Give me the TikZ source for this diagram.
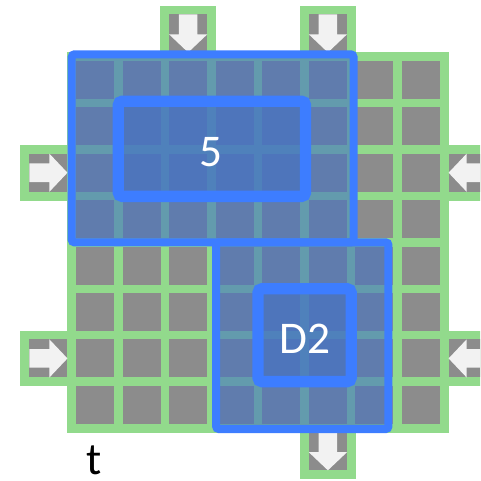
\documentclass[tikz,border=0pt]{standalone}
\usepackage{fontspec}
\setmainfont{Carlito}
\definecolor{padgreen}{RGB}{146,218,140}
\definecolor{cellgray}{RGB}{140,140,140}
\definecolor{arrowwhite}{RGB}{242,242,242}
\definecolor{edgeblue}{RGB}{61,125,255}
\definecolor{fillblue}{RGB}{68,114,196}

\begin{document}
\begin{tikzpicture}[x=34.93pt, y=-34.82pt,
  cell/.style={fill=cellgray, minimum size=28.5pt, inner sep=0pt},
  pad/.style={fill=padgreen},
  outerbox/.style={draw=edgeblue, line width=6pt, fill=fillblue, fill opacity=0.6, rounded corners=2pt},
  innerbox/.style={draw=edgeblue, line width=8.5pt, fill=fillblue, fill opacity=0.62, rounded corners=3pt},
  boxlabel/.style={text=white, inner sep=0pt, font=\fontsize{34}{40}\selectfont},
  inarrow/.pic={\fill[arrowwhite] (-0.2,-0.41) -- (0.2,-0.41) -- (0.2,0.02) -- (0.41,0.02) -- (0,0.41) -- (-0.41,0.02) -- (-0.2,0.02) -- cycle;}]

\clip (-1.04,-0.72) rectangle (9.27,9.64);

% green pad under the grid, plus the tabs on its sides
\fill[pad] (0.4,0.4) rectangle (8.6,8.6);
\foreach \c/\r in {3/0, 6/0, 0/3, 0/7, 9/3, 9/7, 6/9}
  \fill[pad] (\c-0.6,\r-0.6) rectangle (\c+0.6,\r+0.6);

% 8x8 cells
\foreach \c in {1,...,8}
  \foreach \r in {1,...,8}
    \node[cell] (cell-\c-\r) at (\c,\r) {};

% ports with their arrows
\foreach \c/\r/\a in {3/0/0, 6/0/0, 0/3/90, 0/7/90, 9/3/-90, 9/7/-90, 6/9/0} {
  \node[cell] (port-\c-\r) at (\c,\r) {};
  \pic[rotate=\a] at (port-\c-\r) {inarrow};
}

% regions
\draw[outerbox] (0.5,0.45) rectangle (6.55,4.5);
\draw[outerbox] (3.6,4.5) rectangle (7.3,8.52);
\draw[innerbox] (1.5,1.46) rectangle (5.52,3.51);
\draw[innerbox] (4.5,5.5) rectangle (6.5,7.5);

\node[boxlabel, yshift=-2pt] (five) at (3.5,2.5) {5};
\node[boxlabel, yshift=-3pt] (dtwo) at (5.5,6.5) {D2};
\node[anchor=base, inner sep=0pt, font=\fontsize{34}{40}\selectfont] (tlabel) at (0.97,9.51) {t};
\end{tikzpicture}
\end{document}
